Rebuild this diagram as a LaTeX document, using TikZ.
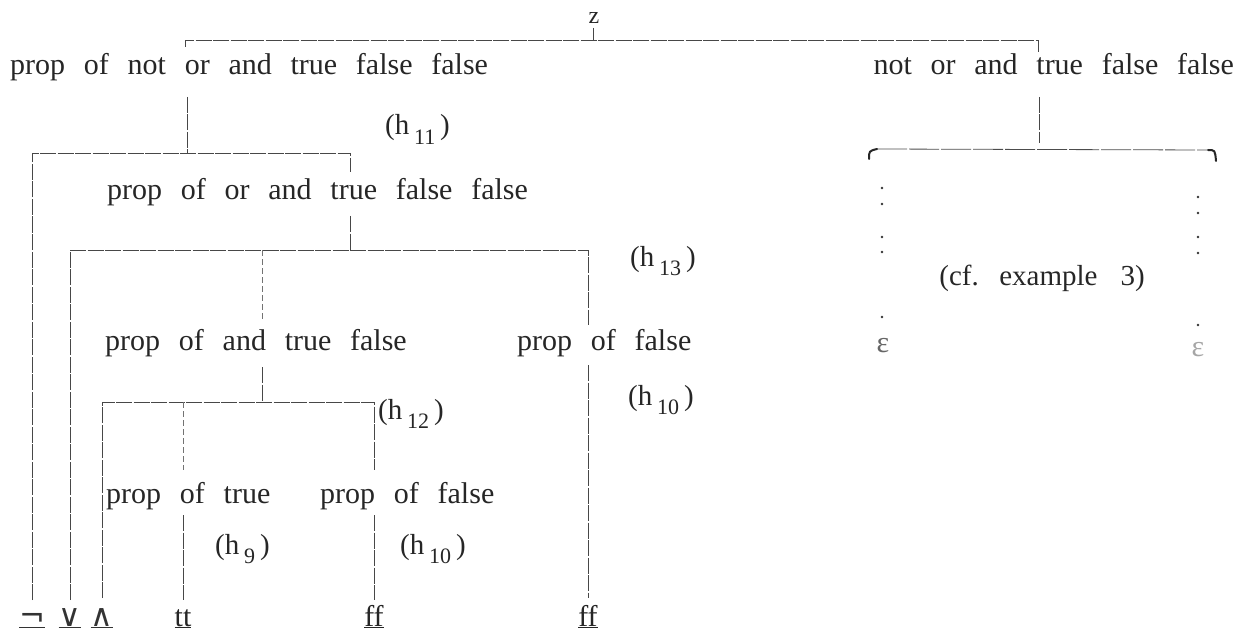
\documentclass[tikz,border=0pt]{standalone}
\usepackage{fontspec}
\setmainfont{Liberation Serif}[WordSpace=2.5]
\newfontfamily\symfnt{DejaVu Sans}
\newcommand{\hlab}[1]{(h\,\raisebox{-0.7ex}{\fontsize{22}{22}\selectfont #1}\,)}
\begin{document}
\begin{tikzpicture}[x=1pt,y=-1pt,
  txt/.style={inner sep=0pt,font=\fontsize{30}{36}\selectfont,text=black!85},
  lbl/.style={inner sep=0pt,font=\fontsize{29}{34}\selectfont,text=black!85},
  sym/.style={inner sep=0pt,font=\symfnt\fontsize{31}{34}\selectfont,text=black!80},
  conn/.style={draw=black!72,line width=0.85pt,dash pattern=on 16pt off 1.5pt},
  dconn/.style={draw=black!55,line width=0.7pt,dash pattern=on 6pt off 3pt},
  dotmark/.style={circle,fill=black!80,inner sep=0pt,minimum size=2.6pt}]
\useasboundingbox (0,0) rectangle (1239,639);
% texts
\node[txt] (z) at (594,18) {\fontsize{24}{24}\selectfont z};
\node[txt,anchor=base west] (r1l) at (10,75) {prop of not or and true false false};
\node[txt,anchor=base east] (r1r) at (1234,75) {not or and true false false};
\node[lbl,anchor=base west] (h11) at (385,135) {\hlab{11}};
\node[txt,anchor=base west] (r2) at (107,200) {prop of or and true false false};
\node[lbl,anchor=base west] (h13) at (630,266) {\hlab{13}};
\node[txt,anchor=base west] (r3l) at (105,350) {prop of and true false};
\node[txt,anchor=base west] (r3r) at (517,350) {prop of false};
\node[lbl,anchor=base west] (h10r) at (628,405) {\hlab{10}};
\node[lbl,anchor=base west] (h12) at (378,419) {\hlab{12}};
\node[txt,anchor=base west] (r4l) at (106,503) {prop of true};
\node[txt,anchor=base west] (r4r) at (320,503) {prop of false};
\node[lbl,anchor=base west] (h9) at (215,554) {\hlab{9}};
\node[lbl,anchor=base west] (h10) at (400,554) {\hlab{10}};
% leaves
\node[sym,anchor=base] (lnot) at (32,626) {\underline{¬}};
\node[sym,anchor=base] (lor) at (70,626) {\underline{∨}};
\node[sym,anchor=base] (land) at (102,626) {\underline{∧}};
\node[txt,anchor=base] (ltt) at (183,626) {\underline{tt}};
\node[txt,anchor=base] (lff1) at (374,626) {\underline{ff}};
\node[txt,anchor=base] (lff2) at (588,626) {\underline{ff}};
% right part
\node[lbl] (cf) at (1042,278) {(cf. example\, 3)};
\node[txt,text=black!60] (eps1) at (883,346) {ε};
\node[txt,text=black!35] (eps2) at (1198,350) {ε};
\foreach \y [count=\i] in {188,204,237,252,317} \node[dotmark] (dl\i) at (882,\y) {};
\foreach \y [count=\i] in {197,213,237,253,325} \node[dotmark] (dr\i) at (1198,\y) {};
% top connector
\coordinate (zt) at (593,28);
\coordinate (zb) at (593,40);
\coordinate (tl) at (185,40);
\coordinate (tld) at (185,47);
\coordinate (tr) at (1038,40);
\coordinate (trd) at (1038,52);
\draw[conn] (zt) -- (zb);
\draw[conn] (tld) -- (tl) -- (tr) -- (trd);
% left subtree
\coordinate (a1) at (187,97);
\coordinate (a2) at (187,153);
\coordinate (bl) at (32,153);
\coordinate (br) at (350,153);
\coordinate (brd) at (350,172);
\coordinate (lnott) at (32,600);
\draw[conn] (a1) -- (a2);
\draw[conn] (lnott) -- (bl) -- (br) -- (brd);
\coordinate (c1) at (350,216);
\coordinate (c2) at (350,250);
\coordinate (cl) at (70,250);
\coordinate (cr) at (588,250);
\coordinate (crd) at (588,325);
\coordinate (cm) at (262,250);
\coordinate (cmd) at (262,320);
\coordinate (lort) at (70,600);
\draw[conn] (c1) -- (c2);
\draw[conn] (lort) -- (cl) -- (cr) -- (crd);
\draw[dconn] (cm) -- (cmd);
\coordinate (f1) at (588,365);
\coordinate (f2) at (588,598);
\draw[conn] (f1) -- (f2);
\coordinate (d1) at (262,367);
\coordinate (d2) at (262,402);
\coordinate (dl) at (102,402);
\coordinate (dr) at (374,402);
\coordinate (drd) at (374,470);
\coordinate (dm) at (183,402);
\coordinate (dmd) at (183,470);
\coordinate (landt) at (102,598);
\draw[conn] (d1) -- (d2);
\draw[conn] (landt) -- (dl) -- (dr) -- (drd);
\draw[dconn] (dm) -- (dmd);
\coordinate (e1) at (183,515);
\coordinate (e2) at (183,600);
\coordinate (g1) at (374,515);
\coordinate (g2) at (374,600);
\draw[conn] (e1) -- (e2);
\draw[conn] (g1) -- (g2);
% right subtree
\coordinate (p1) at (1039,97);
\coordinate (p2) at (1039,143);
\draw[conn] (p1) -- (p2);
\coordinate (bl0) at (869,159);
\coordinate (bl1) at (877,149);
\coordinate (br1) at (1208,150);
\coordinate (br0) at (1216,161);
\draw[draw=black!70,line width=0.8pt,dash pattern=on 30pt off 2pt] (bl1) -- (br1);
\draw[black!85,line width=2pt,line cap=round] (bl0) .. controls (869,151) .. (bl1);
\draw[black!85,line width=2pt,line cap=round] (br1) .. controls (1215,150) .. (br0);
\end{tikzpicture}
\end{document}
